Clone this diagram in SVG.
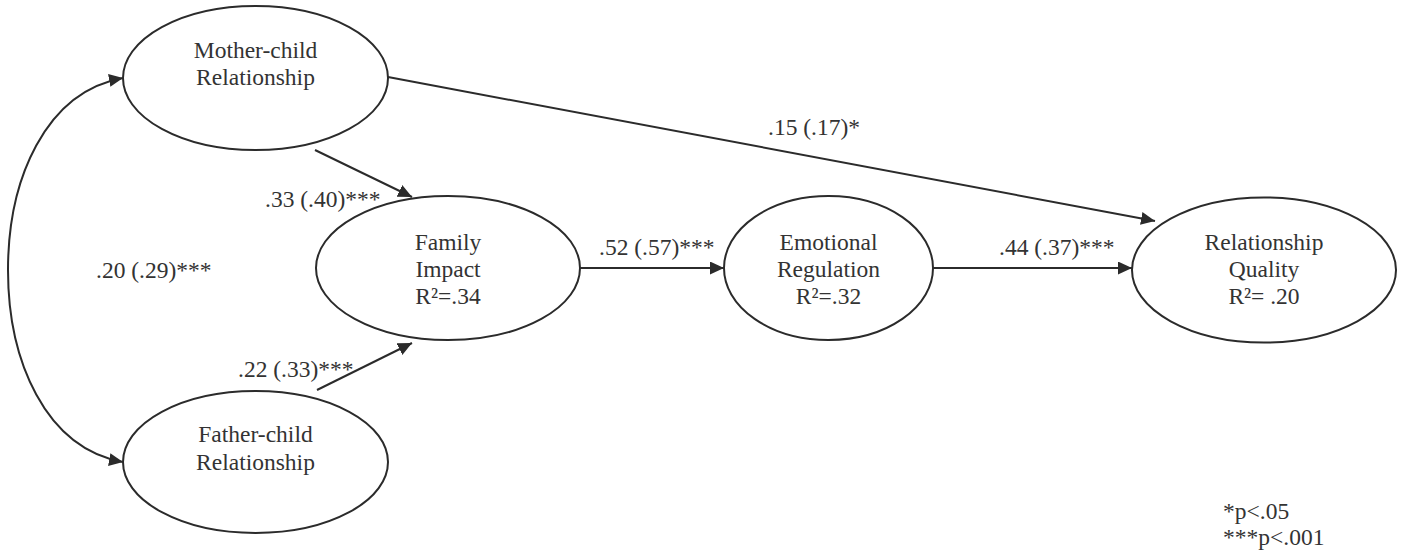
<svg xmlns="http://www.w3.org/2000/svg" width="1405" height="552" viewBox="0 0 1405 552">
  <style>
    .node ellipse { fill: #ffffff; stroke: #2b2b2b; stroke-width: 2; }
    text { font-family: "Liberation Serif", "Times New Roman", serif; font-size: 23.5px; fill: #333333; }
    .ctr { text-anchor: middle; }
    .edge { fill: none; stroke: #2b2b2b; stroke-width: 2; }
  </style>
  <defs>
    <marker id="arrow" markerUnits="userSpaceOnUse" markerWidth="15" markerHeight="14" refX="14" refY="6.5" orient="auto-start-reverse">
      <path d="M0,0 L14,6.5 L0,13 Z" fill="#2b2b2b"/>
    </marker>
  </defs>

  <rect width="1405" height="552" fill="#ffffff"/>

  <!-- paths between latent variables -->
  <g id="connectors">
    <path class="edge" d="M123,78 C45,92 8,180 8,270 C8,360 45,448 123,462" marker-start="url(#arrow)" marker-end="url(#arrow)"/>
    <line class="edge" x1="388" y1="77" x2="1155" y2="221" marker-end="url(#arrow)"/>
    <line class="edge" x1="315" y1="150" x2="412" y2="197" marker-end="url(#arrow)"/>
    <line class="edge" x1="317" y1="390" x2="412" y2="343" marker-end="url(#arrow)"/>
    <line class="edge" x1="580" y1="268" x2="724" y2="268" marker-end="url(#arrow)"/>
    <line class="edge" x1="933" y1="268" x2="1132" y2="268" marker-end="url(#arrow)"/>
  </g>

  <!-- path coefficients -->
  <g id="labels">
    <text x="768" y="135">.15 (.17)*</text>
    <text x="265" y="207">.33 (.40)***</text>
    <text x="96" y="278">.20 (.29)***</text>
    <text x="238" y="377">.22 (.33)***</text>
    <text x="599" y="255">.52 (.57)***</text>
    <text x="999" y="255">.44 (.37)***</text>
  </g>

  <g id="mother-child" class="node">
    <ellipse cx="255.5" cy="78" rx="132.5" ry="72"/>
    <text class="ctr" x="255.5" y="58">Mother-child</text>
    <text class="ctr" x="255.5" y="85">Relationship</text>
  </g>

  <g id="father-child" class="node">
    <ellipse cx="255.5" cy="462" rx="132.5" ry="71"/>
    <text class="ctr" x="255.5" y="442">Father-child</text>
    <text class="ctr" x="255.5" y="470">Relationship</text>
  </g>

  <g id="family-impact" class="node">
    <ellipse cx="448" cy="268" rx="132" ry="72"/>
    <text class="ctr" x="448" y="250">Family</text>
    <text class="ctr" x="448" y="277">Impact</text>
    <text class="ctr" x="448" y="304">R²=.34</text>
  </g>

  <g id="emotional-regulation" class="node">
    <ellipse cx="828.5" cy="268" rx="104.5" ry="72"/>
    <text class="ctr" x="828.5" y="250">Emotional</text>
    <text class="ctr" x="828.5" y="277">Regulation</text>
    <text class="ctr" x="828.5" y="304">R²=.32</text>
  </g>

  <g id="relationship-quality" class="node">
    <ellipse cx="1264" cy="270" rx="132" ry="72.5"/>
    <text class="ctr" x="1264" y="250">Relationship</text>
    <text class="ctr" x="1264" y="277">Quality</text>
    <text class="ctr" x="1264" y="304">R²= .20</text>
  </g>

  <!-- significance legend -->
  <g id="legend">
    <text x="1223" y="519">*p&lt;.05</text>
    <text x="1223" y="545">***p&lt;.001</text>
  </g>
</svg>
